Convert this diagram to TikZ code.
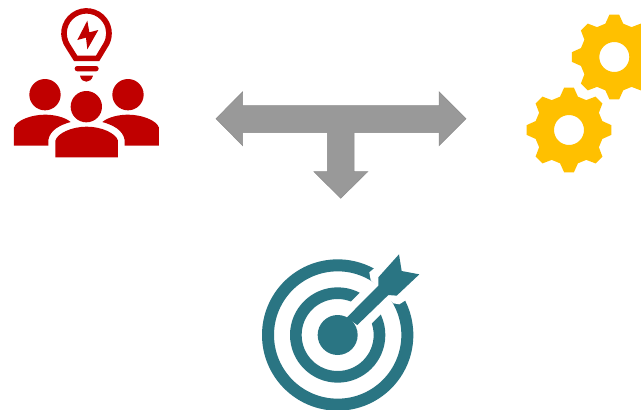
\documentclass[tikz,border=0pt]{standalone}
\definecolor{iconred}{HTML}{C00000}
\definecolor{iconyellow}{HTML}{FFC000}
\definecolor{iconteal}{HTML}{2A7583}
\definecolor{arrowgray}{HTML}{999999}
\definecolor{arrowedge}{HTML}{8C8C8C}
\tikzset{
  zoomed/.style={x=0.33333pt,y=-0.33333pt},
  teal fill/.style={fill=iconteal},
  red fill/.style={fill=iconred},
}
\newcommand{\gearat}[2]{%
  \fill[iconyellow,even odd rule,shift={(#1,#2)}]
    (83.5:42.7)
    \foreach \a in {0,45,...,315} {
      -- ({\a+83.5}:42.7) -- ({\a+96.5}:42.7) -- ({\a+105}:34.5) -- ({\a+120}:34.5)
    } -- cycle
    (0,0) circle[radius=15];%
}
\begin{document}
\begin{tikzpicture}[x=1pt,y=-1pt]
\clip (0,0) rectangle (641,410);
\fill[white] (0,0) rectangle (641,410);
% T arrow
\filldraw[fill=arrowgray,draw=arrowedge,line width=0.5pt,line join=miter]
  (216,118.7) -- (242.7,91.7) -- (242.7,105.7) -- (439,105.7) -- (439,91.7) -- (466,118.7)
  -- (439,145.7) -- (439,132.7) -- (354,132.7) -- (354,171.7) -- (367.7,171.7) -- (340.7,198.3)
  -- (314,171.7) -- (327.3,171.7) -- (327.3,132.7) -- (242.7,132.7) -- (242.7,145.7) -- cycle;
% Gears
\gearat{569}{130}
\gearat{614.3}{57}
% People with bulb
\begin{scope}[zoomed,red fill]
  \fill[iconred,even odd rule]
    (222,183) -- (198,145) arc[start angle=144,end angle=396,radius=76] -- (298,183) -- cycle
    (232,167) -- (210,132) arc[start angle=147,end angle=393,radius=59] -- (288,167) -- cycle;
  \fill[iconred] (262,62) -- (232,120) -- (258,113) -- (262,148) -- (295,90) -- (268,97) -- cycle;
  \fill[iconred,rounded corners=2.6pt] (224,198) rectangle (296,214);
  \fill[iconred] (240,227) -- (279,227) .. controls (275,240) and (268,245) .. (259,245)
    .. controls (250,245) and (243,240) .. (240,227) -- cycle;
  \fill[iconred] (135,284) circle[radius=47];
  \fill[iconred] (259,320) circle[radius=47];
  \fill[iconred] (384,284) circle[radius=47];
  \fill[iconred] (166,472) -- (166,422) .. controls (172,400) and (215,380) .. (260,380)
    .. controls (305,380) and (348,400) .. (354,422) -- (354,472) -- cycle;
  \fill[iconred] (42,437) -- (42,383) .. controls (50,360) and (95,344) .. (135,344)
    .. controls (165,344) and (195,352) .. (212,366)
    .. controls (180,375) and (150,390) .. (145,420) -- (145,437) -- cycle;
  \fill[iconred] (477,437) -- (477,383) .. controls (469,360) and (424,344) .. (384,344)
    .. controls (354,344) and (324,352) .. (307,366)
    .. controls (339,375) and (369,390) .. (374,420) -- (374,437) -- cycle;
\end{scope}
% Target
\begin{scope}[shift={(250,245)},zoomed]
  \fill[iconteal,even odd rule] (263,270) circle[radius=227] (263,270) circle[radius=191];
  \fill[iconteal,even odd rule] (263,270) circle[radius=143] (263,270) circle[radius=108];
  % gaps in the rings
  \fill[white] (280,193) -- (350,123) -- (420,180) -- (340,260) -- cycle;
  \fill[white] (370,72) -- (358,82) -- (362,105) -- (430,175) -- (448,178) -- (465,167)
    -- (510,110) -- (430,20) -- cycle;
  \fill[iconteal] (263,270) circle[radius=60];
  \fill[iconteal] (290,218) -- (385,122) -- (385,97) -- (447,28) -- (455,78) -- (508,88)
    -- (440,152) -- (415,150) -- (322,240) -- cycle;
\end{scope}
\end{tikzpicture}
\end{document}
